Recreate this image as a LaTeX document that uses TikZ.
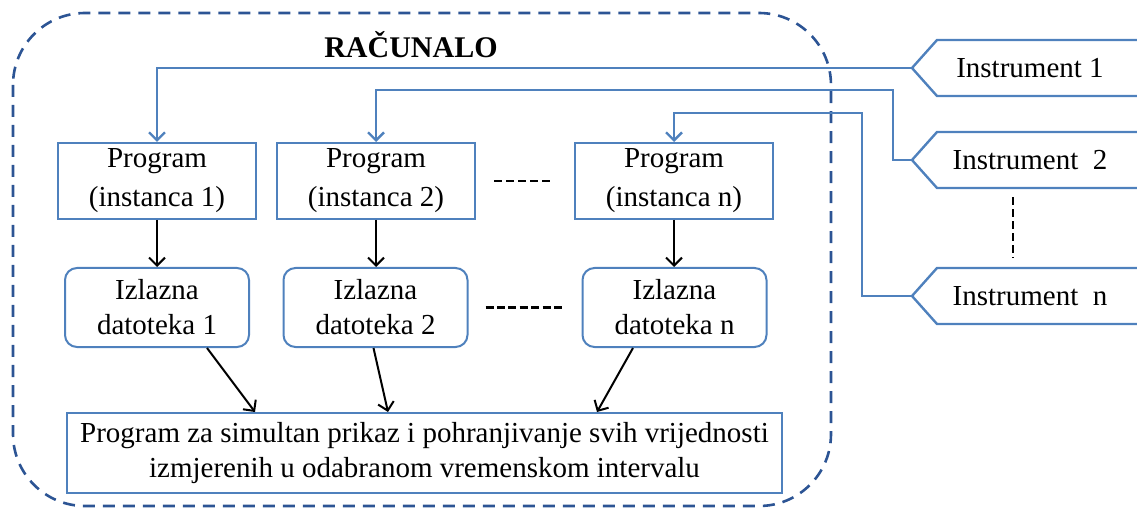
\documentclass[tikz,border=0pt]{standalone}
\usepackage{fontspec}
\setmainfont{Liberation Serif}
\usetikzlibrary{arrows.meta,calc}
\definecolor{boxblue}{HTML}{4F81BD}
\definecolor{darkblue}{HTML}{2C5494}

\begin{document}
\begin{tikzpicture}[
		x=0.5pt, y=-0.5pt,
		every node/.style={font=\fontsize{14.5}{17.5}\selectfont, align=center, inner sep=0pt},
		prog/.style={rectangle, draw=boxblue, line width=1pt, minimum width=99pt, minimum height=38pt},
		izl/.style={prog, rounded corners=6pt, minimum width=92pt, minimum height=39.5pt},
		feed/.style={draw=boxblue, line width=1.2pt, -{Straight Barb[length=4pt,width=8pt]}},
		arr/.style={line width=1pt, -{Straight Barb[length=4pt,width=8pt]}},
		instr/.style={draw=boxblue, line width=1.2pt}
	]
  \useasboundingbox (0,0) rectangle (1137,508);
  \draw [darkblue, line width=1.3pt, dash pattern=on 6pt off 4pt, rounded corners=36pt] (13,13) rectangle (831,506);
  \node (title) [font=\fontsize{15}{18}\selectfont\bfseries] at (411,45) {RAČUNALO};
  \node (prog_1) [prog, font=\fontsize{14.5}{19.5}\selectfont] at (157,181) {Program\\(instanca 1)};
  \node (prog_2) [prog, font=\fontsize{14.5}{19.5}\selectfont] at (376,181) {Program\\(instanca 2)};
  \node (prog_n) [prog, font=\fontsize{14.5}{19.5}\selectfont] at (674,181) {Program\\(instanca n)};
  \node (izl_1) [izl] at (157,307.5) {Izlazna\\datoteka 1};
  \node (izl_2) [izl] at (375.5,307.5) {Izlazna\\datoteka 2};
  \node (izl_n) [izl] at (674.5,307.5) {Izlazna\\datoteka n};
  \node (sim) [prog, minimum width=357.5pt, minimum height=40pt] at (424.5,453)
    {Program za simultan prikaz i pohranjivanje svih vrijednosti\\izmjerenih u odabranom vremenskom intervalu};
  \node (instr_1) at (1030,68) {Instrument 1};
  \node (instr_2) at (1030,160) {Instrument\ \ 2};
  \node (instr_n) at (1030,296) {Instrument\ \ n};
  \foreach \n/\y in {1/68, 2/160, n/296}
    \draw [instr] (1140,\y-28) -- (937,\y-28) -- (912,\y) coordinate (tip_\n) -- (937,\y+28) -- (1140,\y+28);
  \draw [feed] (tip_1) -| (prog_1.north);
  \draw [feed] (tip_2) -| (893,90) -| (prog_2.north);
  \draw [feed] (tip_n) -| (862,113) -| (prog_n.north);
  \foreach \i in {1,2,n}
    \draw [arr] (prog_\i.south) -- (prog_\i.south |- izl_\i.north);
  \draw [arr] ($(izl_1.south)+(50,0)$) -- ($(sim.north)+(-169.5,0)$);
  \draw [arr] ($(izl_2.south)+(-2,0)$) -- ($(sim.north)+(-36.5,0)$);
  \draw [arr] ($(izl_n.south)+(-41.5,0)$) -- ($(sim.north)+(172.5,0)$);
  \draw [line width=1.2pt, dash pattern=on 4pt off 2pt] ($(prog_2.east)+(18,0)$) -- ($(prog_n.west)+(-22,0)$);
  \draw [line width=1.2pt, dash pattern=on 4pt off 1.7pt] ($(izl_2.east)+(17,0)$) -- ($(izl_n.west)+(-17,0)$);
  \draw [line width=0.8pt, dash pattern=on 4pt off 2pt] ($(instr_2.south)+(-17,27)$) -- ($(instr_n.north)+(-17,-28)$);
\end{tikzpicture}
\end{document}
